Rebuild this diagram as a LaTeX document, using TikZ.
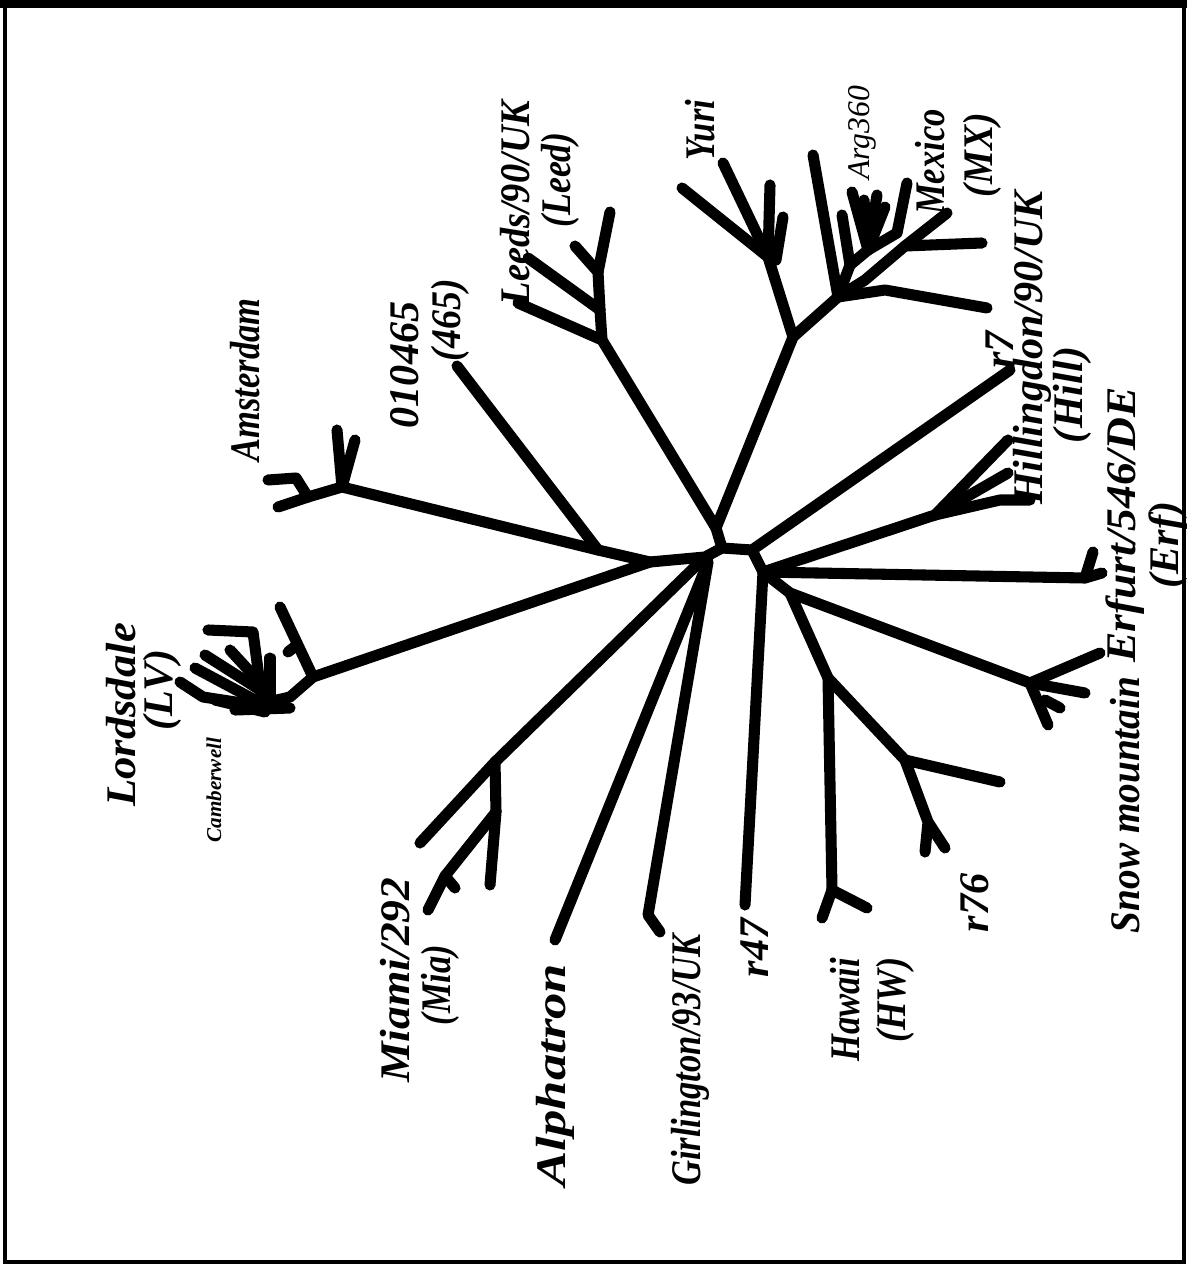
\documentclass[tikz,border=0pt]{standalone}
\usepackage{fontspec}
\usepackage{graphicx}
\setmainfont{Liberation Serif}
\newcommand\sxlab[2]{\scalebox{#1}[1]{#2}}
\begin{document}
\begin{tikzpicture}[x=0.02cm,y=-0.02cm,
  br/.style={line width=6.3pt,line cap=round,line join=round},
  lab/.style={font=\fontsize{24}{26}\selectfont\bfseries\itshape, rotate=90, inner sep=0pt},
  smalllab/.style={font=\fontsize{12}{13}\selectfont\bfseries\itshape, rotate=90, inner sep=0pt},
  arglab/.style={font=\fontsize{18}{20}\selectfont\itshape, rotate=90, inner sep=0pt}]
\useasboundingbox (0,0) rectangle (1187,1266);
\draw[line width=2.5pt] (5,4) rectangle (1184,1262);
\draw[line width=4pt] (0,4) -- (1187,4);
% central nodes
\coordinate (C0) at (716,528);
\coordinate (C1) at (722,548);
\coordinate (C2) at (752,550);
\coordinate (C3) at (763,572);
\coordinate (G) at (705,557);
\coordinate (G2) at (708,562);
\coordinate (L) at (650,562);
\coordinate (L2) at (598,550);
\draw[br] (C0)--(C1)--(C2)--(C3);
\draw[br] (C1)--(G)--(L);
% Amsterdam
\coordinate (A) at (342,487);
\coordinate (A2) at (308,497);
\coordinate (Aa) at (337,430);
\coordinate (Ab) at (355,440);
\coordinate (Ac) at (296,478);
\coordinate (Ad) at (268,480);
\coordinate (Ae) at (278,507);
\draw[br] (L)--(L2)--(A)--(Aa);
\draw[br] (A)--(Ab);
\draw[br] (A)--(A2)--(Ac)--(Ad);
\draw[br] (A2)--(Ae);
% 010465
\coordinate (T465) at (457,366);
\draw[br] (L2)--(T465);
% Lordsdale
\coordinate (LV) at (313,677);
\coordinate (LVa) at (280,607);
\coordinate (LV2) at (290,697);
\draw[br] (L)--(LV)--(LVa);
\draw[br] (LV)--(LV2)--(255,705)--(203,697)--(180,682);
\draw[br] (262,700)--(253,632)--(208,630);
\draw[br] (270,700)--(270,658);
\draw[br] (195,668)--(255,700);
\draw[br] (205,655)--(260,690);
\draw[br] (230,650)--(265,688);
\draw[br] (215,700)--(265,712);
\draw[br] (235,710)--(290,708);
\draw[br] (297,645)--(288,652);
% Leeds
\coordinate (LD) at (602,340);
\coordinate (N1) at (600,310);
\coordinate (N2) at (598,272);
\draw[br] (C0)--(LD)--(518,303);
\draw[br] (LD)--(N1)--(528,258);
\draw[br] (N1)--(N2)--(575,246);
\draw[br] (N2)--(610,212);
% Yuri
\coordinate (Y0) at (793,337);
\coordinate (Y1) at (768,257);
\coordinate (Y2) at (776,260);
\draw[br] (C0)--(Y0)--(Y1)--(682,188);
\draw[br] (Y1)--(723,163);
\draw[br] (Y1)--(770,185);
\draw[br] (Y1)--(Y2)--(783,217);
% Mexico cluster
\coordinate (M0) at (838,297);
\coordinate (M1) at (850,265);
\coordinate (M2) at (868,250);
\coordinate (M3) at (865,280);
\coordinate (M3b) at (905,246);
\draw[br] (Y0)--(M0)--(813,155);
\draw[br] (M0)--(M1)--(842,215);
\draw[br] (M1)--(M2)--(852,192);
\draw[br] (M2)--(864,200);
\draw[br] (M2)--(877,195);
\draw[br] (M2)--(885,207);
\draw[br] (M2)--(897,233)--(907,183);
\draw[br] (M0)--(M3)--(M3b)--(947,213);
\draw[br] (M3b)--(982,243);
\draw[br] (M0)--(885,290)--(987,308);
% r7
\draw[br] (C2)--(1010,370);
% Hillingdon
\coordinate (H) at (935,515);
\draw[br] (C3)--(H)--(1008,440);
\draw[br] (H)--(1008,473);
\draw[br] (H)--(1000,500)--(1030,500);
% Erfurt
\coordinate (E) at (1085,578);
\draw[br] (C3)--(E)--(1093,552);
\draw[br] (E)--(1102,573);
% Snow mountain
\coordinate (SN0) at (790,593);
\coordinate (S) at (1030,683);
\draw[br] (C3)--(SN0)--(S)--(1100,653);
\draw[br] (S)--(1085,693);
\draw[br] (S)--(1048,725);
\draw[br] (1045,700)--(1060,708);
% Hawaii / r76
\coordinate (HW0) at (828,678);
\coordinate (HW1) at (832,890);
\coordinate (R) at (905,760);
\coordinate (R1) at (928,822);
\draw[br] (SN0)--(HW0)--(R)--(1000,782);
\draw[br] (HW0)--(HW1)--(867,908);
\draw[br] (HW1)--(822,918);
\draw[br] (R)--(R1)--(925,852);
\draw[br] (R1)--(945,848);
% r47
\draw[br] (C3)--(745,905);
% Miami
\coordinate (MI0) at (495,762);
\coordinate (MI1) at (496,812);
\coordinate (MI2) at (445,876);
\draw[br] (G)--(MI0)--(420,843);
\draw[br] (MI0)--(MI1)--(490,885);
\draw[br] (MI1)--(MI2)--(428,910);
\draw[br] (MI2)--(455,888);
% Alphatron, Girlington
\draw[br] (G2)--(555,940);
\draw[br] (G2)--(648,915)--(660,932);
% labels
\node[lab] (tLV) at (121,715) {\sxlab{1.06}{Lordsdale}};
\node[lab] (tLV2) at (162,690) {(LV)};
\node[smalllab] (tCam) at (214,790) {Camberwell};
\node[lab] (tAms) at (245,380) {\sxlab{0.82}{Amsterdam}};
\node[lab] (t465) at (405,365) {010465};
\node[lab] (t4652) at (450,320) {\sxlab{0.9}{(465)}};
\node[lab] (tLeed) at (515,203) {\sxlab{0.91}{Leeds/90/UK}};
\node[lab] (tLeed2) at (560,180) {\sxlab{0.85}{(Leed)}};
\node[lab] (tYuri) at (700,130) {\sxlab{0.82}{Yuri}};
\node[arglab] (tArg) at (862,133) {Arg360};
\node[lab] (tMX) at (930,162) {\sxlab{0.82}{Mexico}};
\node[lab] (tMX2) at (982,155) {\sxlab{0.9}{(MX)}};
\node[lab] (tr7) at (1000,350) {r7};
\node[lab] (tHill) at (1032,348) {Hillingdon/90/UK};
\node[lab] (tHill2) at (1072,395) {(Hill)};
\node[lab] (tErf) at (1125,525) {\sxlab{1.08}{Erfurt/546/DE}};
\node[lab] (tErf2) at (1168,545) {(Erf)};
\node[lab] (tSnow) at (1125,805) {\sxlab{0.93}{Snow mountain}};
\node[lab] (tr76) at (975,903) {r76};
\node[lab] (tHW) at (845,1010) {\sxlab{0.82}{Hawaii}};
\node[lab] (tHW2) at (895,1000) {\sxlab{0.87}{(HW)}};
\node[lab] (tr47) at (755,948) {r47};
\node[lab] (tGirl) at (690,1060) {\sxlab{0.82}{Girlington/93/UK}};
\node[lab] (tAlph) at (555,1075) {\sxlab{1.25}{Alphatron}};
\node[lab] (tMia) at (395,980) {\sxlab{1.08}{Miami/292}};
\node[lab] (tMia2) at (440,985) {\sxlab{0.82}{(Mia)}};
\end{tikzpicture}
\end{document}
